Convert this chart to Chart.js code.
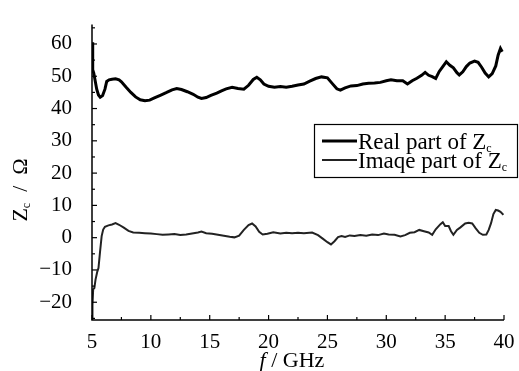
<!DOCTYPE html>
<html>
<head>
<meta charset="utf-8">
<script src="https://cdn.jsdelivr.net/npm/chart.js@4/dist/chart.umd.min.js"></script>
<style>
  html, body { margin: 0; padding: 0; background: #fff; }
  #wrap { width: 519px; height: 371px; }
</style>
</head>
<body>
<div id="wrap"><canvas id="chart" width="519" height="371"></canvas></div>
<script>
// data (f in GHz, Zc in ohm)
const freqReal = [5.0, 5.04, 5.08, 5.15, 5.4, 5.55, 5.7, 5.9, 6.1, 6.25, 6.45, 6.7, 7.0, 7.3, 7.5, 7.9, 8.3, 8.7, 9.1, 9.5,
  9.9, 10.3, 10.8, 11.3, 11.8, 12.2, 12.6, 13.1, 13.6, 14.0, 14.3, 14.7, 15.1, 15.6, 16.0, 16.4, 16.9, 17.4, 17.9, 18.3,
  18.7, 19.0, 19.3, 19.6, 20.0, 20.5, 21.0, 21.5, 22.0, 22.5, 23.0, 23.5, 24.0, 24.5, 25.0, 25.4, 25.8, 26.1, 26.5, 27.0,
  27.5, 28.0, 28.5, 29.0, 29.5, 30.0, 30.4, 30.9, 31.4, 31.8, 32.2, 32.6, 33.0, 33.3, 33.6, 33.9, 34.2, 34.5, 34.8, 35.1,
  35.4, 35.7, 36.0, 36.2, 36.5, 36.8, 37.1, 37.5, 37.8, 38.1, 38.4, 38.7, 39.0, 39.3, 39.5, 39.7, 39.85];
const realPart = [60.5, 58, 52, 51, 46, 44.2, 43.5, 44, 46, 48.4, 48.9, 49.1, 49.2, 48.9, 48.3, 46.6, 45, 43.6, 42.7, 42.4,
  42.6, 43.3, 44.1, 44.9, 45.8, 46.2, 45.9, 45.2, 44.4, 43.5, 43.1, 43.4, 44.1, 44.8, 45.5, 46.1, 46.6, 46.2, 46, 47.2,
  49, 49.7, 48.9, 47.6, 46.9, 46.6, 46.8, 46.6, 46.9, 47.3, 47.6, 48.5, 49.3, 49.8, 49.5, 47.8, 46.1, 45.7, 46.4, 47,
  47.1, 47.6, 47.8, 47.9, 48.1, 48.6, 48.9, 48.6, 48.6, 47.6, 48.6, 49.4, 50.3, 51.2, 50.3, 49.9, 49.3, 51.5, 53, 54.5,
  53.4, 52.6, 51.1, 50.4, 51.4, 53, 54.1, 54.7, 54.3, 52.8, 51, 49.8, 50.8, 53.2, 56.5, 58.6, 57.6];

const freqImag = [5.0, 5.04, 5.1, 5.2, 5.3, 5.45, 5.55, 5.68, 5.82, 5.95, 6.1, 6.4, 6.7, 7.0, 7.3, 7.7, 8.1, 8.5, 9.0, 9.5,
  10.0, 10.5, 11.0, 11.5, 12.0, 12.5, 13.0, 13.5, 14.0, 14.3, 14.7, 15.2, 15.7, 16.2, 16.7, 17.1, 17.5, 17.9, 18.3, 18.6,
  18.9, 19.2, 19.5, 19.9, 20.4, 21.0, 21.5, 22.0, 22.5, 23.0, 23.7, 24.2, 24.6, 25.0, 25.3, 25.6, 25.9, 26.2, 26.5, 26.9,
  27.3, 27.8, 28.3, 28.8, 29.3, 29.8, 30.2, 30.7, 31.2, 31.6, 32.0, 32.4, 32.8, 33.2, 33.6, 33.9, 34.2, 34.6, 34.8, 35.0,
  35.3, 35.5, 35.7, 36.0, 36.3, 36.7, 37.0, 37.3, 37.6, 37.9, 38.2, 38.5, 38.7, 38.9, 39.1, 39.3, 39.5, 39.7, 39.95];
const imagPart = [-25, -21, -16, -15.6, -13, -10.5, -9.4, -4.5, 0.5, 2.5, 3.4, 3.8, 4.1, 4.5, 4.0, 3.1, 2.1, 1.6, 1.5, 1.4,
  1.3, 1.1, 0.9, 1.0, 1.1, 0.8, 1.0, 1.3, 1.6, 1.9, 1.4, 1.2, 0.9, 0.6, 0.3, 0.1, 0.6, 2.4, 3.9, 4.4,
  3.5, 1.8, 1.0, 1.2, 1.7, 1.3, 1.5, 1.4, 1.5, 1.4, 1.6, 0.8, -0.3, -1.4, -2.1, -1.1, 0.2, 0.5, 0.2, 0.7,
  0.5, 0.8, 0.6, 1.0, 0.8, 1.3, 1.0, 0.9, 0.4, 0.8, 1.5, 1.7, 2.4, 2.0, 1.6, 0.9, 2.6, 4.2, 4.8, 3.6,
  3.6, 2.0, 0.9, 2.4, 3.2, 4.4, 4.6, 4.4, 2.9, 1.5, 0.9, 1.0, 2.4, 4.5, 7.3, 8.6, 8.4, 8.0, 7.1];

const xTicks = [5, 10, 15, 20, 25, 30, 35, 40];
const yTicks = [-20, -10, 0, 10, 20, 30, 40, 50, 60];
const seriesNames = ['Real part of ', 'Imaqe part of '];

const serif = '"Liberation Serif", "Times New Roman", serif';

const toPoints = (xs, ys) => xs.map((x, i) => ({x: x, y: ys[i]}));

// axes, inward ticks, titles and legend (subscripts need hand drawing)
const decor = {
  id: 'decor',
  afterDraw(chart) {
    const ctx = chart.ctx;
    const xs = chart.scales.x, ys = chart.scales.y;
    const a = chart.chartArea;
    ctx.save();
    ctx.strokeStyle = '#000';
    ctx.fillStyle = '#000';
    ctx.lineWidth = 1.5;
    ctx.beginPath();
    ctx.moveTo(a.left, a.top);
    ctx.lineTo(a.left, a.bottom);
    ctx.lineTo(a.right, a.bottom);
    ctx.stroke();

    ctx.lineWidth = 1.2;
    for (let v = 5; v <= 40; v += 2.5) {
      const px = xs.getPixelForValue(v);
      const len = (v % 5 === 0) ? 5 : 3;
      ctx.beginPath();
      ctx.moveTo(px, a.bottom);
      ctx.lineTo(px, a.bottom - len);
      ctx.stroke();
    }
    for (let v = -25; v <= 65; v += 5) {
      const py = ys.getPixelForValue(v);
      const len = (v % 10 === 0) ? 5 : 3;
      ctx.beginPath();
      ctx.moveTo(a.left, py);
      ctx.lineTo(a.left + len, py);
      ctx.stroke();
    }

    // y title: Zc / Ω
    ctx.save();
    ctx.translate(19, 190);
    ctx.rotate(-Math.PI / 2);
    ctx.textBaseline = 'alphabetic';
    ctx.font = '22px ' + serif;
    const w1 = ctx.measureText('Z').width;
    ctx.font = '12px ' + serif;
    const w2 = ctx.measureText('c').width;
    ctx.font = '22px ' + serif;
    const w3 = ctx.measureText('  /  \u03A9').width;
    let tx = -(w1 + w2 + w3) / 2;
    ctx.fillText('Z', tx, 8);
    tx += w1;
    ctx.font = '12px ' + serif;
    ctx.fillText('c', tx, 11);
    tx += w2;
    ctx.font = '22px ' + serif;
    ctx.fillText('  /  \u03A9', tx, 8);
    ctx.restore();

    // x title: f / GHz
    ctx.font = 'italic 22px ' + serif;
    const f1 = ctx.measureText('f').width;
    ctx.font = '22px ' + serif;
    const f2 = ctx.measureText(' / GHz').width;
    let fx = 292 - (f1 + f2) / 2;
    ctx.font = 'italic 22px ' + serif;
    ctx.fillText('f', fx, 367);
    ctx.font = '22px ' + serif;
    ctx.fillText(' / GHz', fx + f1, 367);

    // legend
    ctx.lineWidth = 1.2;
    ctx.strokeRect(314.5, 124.5, 203, 53);
    const rows = [141, 160];
    chart.data.datasets.forEach((ds, i) => {
      ctx.strokeStyle = ds.borderColor;
      ctx.lineWidth = ds.borderWidth;
      ctx.beginPath();
      ctx.moveTo(322, rows[i]);
      ctx.lineTo(357, rows[i]);
      ctx.stroke();
      ctx.font = '23px ' + serif;
      ctx.fillText(seriesNames[i] + 'Z', 358, rows[i] + 8);
      const tw = ctx.measureText(seriesNames[i] + 'Z').width;
      ctx.font = '12px ' + serif;
      ctx.fillText('c', 358 + tw, rows[i] + 11);
    });
    ctx.restore();
  }
};

new Chart(document.getElementById('chart'), {
  type: 'scatter',
  data: {
    datasets: [
      {
        label: 'Real part of Zc',
        data: toPoints(freqReal, realPart),
        showLine: true,
        borderColor: '#000',
        borderWidth: 3,
        pointRadius: 0,
        tension: 0
      },
      {
        label: 'Imaqe part of Zc',
        data: toPoints(freqImag, imagPart),
        showLine: true,
        borderColor: '#222',
        borderWidth: 2,
        pointRadius: 0,
        tension: 0
      }
    ]
  },
  options: {
    responsive: false,
    devicePixelRatio: 1,
    animation: false,
    layout: {padding: {top: 11, right: 15, left: 0, bottom: 0}},
    plugins: {legend: {display: false}, tooltip: {enabled: false}},
    scales: {
      x: {
        type: 'linear',
        min: 5,
        max: 40,
        grid: {display: false},
        border: {display: false},
        afterBuildTicks: s => { s.ticks = xTicks.map(v => ({value: v})); },
        afterFit: s => { s.height = 51; },
        ticks: {
          color: '#000',
          padding: 2,
          maxRotation: 0,
          font: {family: serif, size: 21}
        }
      },
      y: {
        type: 'linear',
        min: -25.5,
        max: 66,
        grid: {display: false},
        border: {display: false},
        afterBuildTicks: s => { s.ticks = yTicks.map(v => ({value: v})); },
        afterFit: s => { s.width = 92; },
        ticks: {
          color: '#000',
          padding: 12,
          font: {family: serif, size: 21},
          callback: v => String(v).replace('-', '\u2212')
        }
      }
    }
  },
  plugins: [decor]
});
</script>
</body>
</html>
